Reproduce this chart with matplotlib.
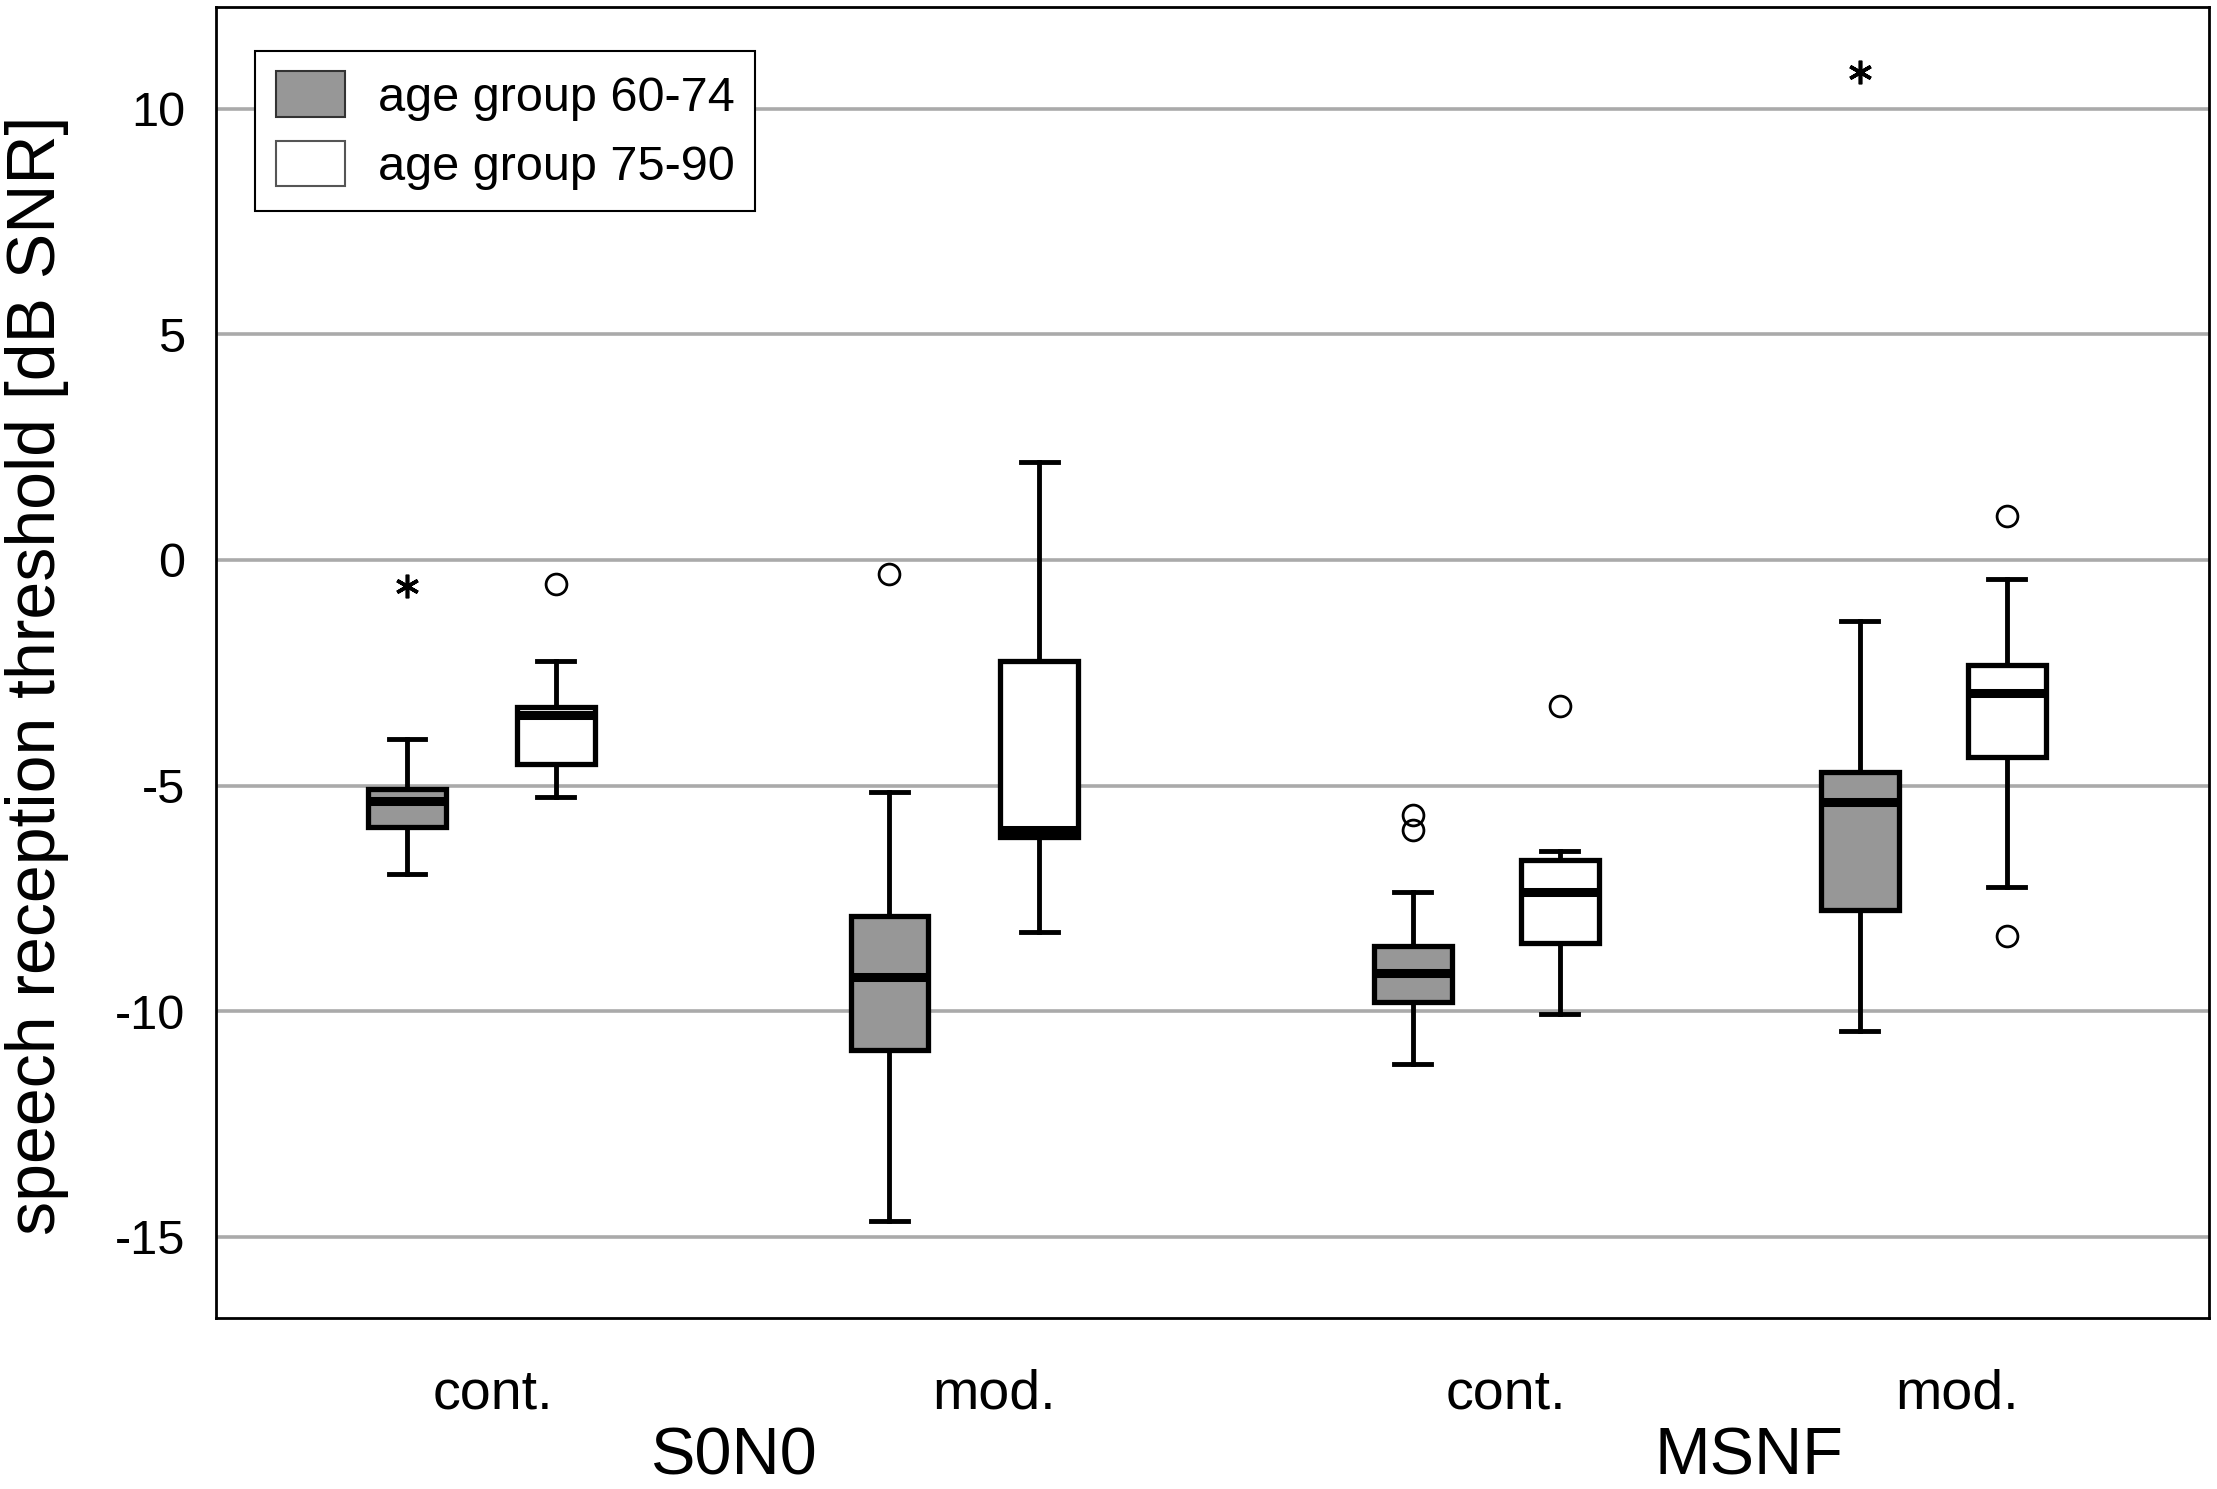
import matplotlib as mpl
mpl.use('Agg')
import numpy as np
import matplotlib.pyplot as plt
from matplotlib.patches import Patch

plt.rcParams['font.family'] = ['Liberation Sans', 'DejaVu Sans']

# box statistics (dB SNR)
# order: S0N0 cont., S0N0 mod., MSNF cont., MSNF mod.
young_whislo = [-6.95, -14.64, -11.17, -10.44]
young_q1     = [-5.93, -10.86,  -9.80,  -7.76]
young_med    = [-5.35,  -9.24,  -9.15,  -5.36]
young_q3     = [-5.07,  -7.89,  -8.55,  -4.69]
young_whishi = [-3.96,  -5.14,  -7.37,  -1.35]
young_out    = [[], [-0.32], [-5.66, -5.98], []]
young_ext    = [[-0.57], [], [], [10.82]]

old_whislo = [-5.25, -8.24, -10.06, -7.24]
old_q1     = [-4.53, -6.13,  -8.48, -4.36]
old_med    = [-3.44, -5.98,  -7.36, -2.94]
old_q3     = [-3.25, -2.25,  -6.64, -2.33]
old_whishi = [-2.24,  2.17,  -6.45, -0.43]
old_out    = [[-0.53], [], [-3.23], [0.98, -8.33]]
old_ext    = [[], [], [], []]

cond_labels = ['cont.', 'mod.', 'cont.', 'mod.']
group_labels = ['S0N0', 'MSNF']
legend_labels = ['age group 60-74', 'age group 75-90']

# layout
pos_young = [1.35, 4.76, 8.46, 11.62]
pos_old = [2.40, 5.82, 9.50, 12.66]
tick_pos = [1.96, 5.50, 9.12, 12.31]
group_pos = [3.66, 10.84]
grey = '#979797'

fig = plt.figure(figsize=(22.17, 14.89), dpi=100)
ax = fig.add_axes([0.0975, 0.1148, 0.8989, 0.8805])

def stats(wl, q1, md, q3, wh):
  return [dict(whislo=a, q1=b, med=c, q3=d, whishi=e, fliers=[])
          for a, b, c, d, e in zip(wl, q1, md, q3, wh)]

for st, pos, fc in [(stats(young_whislo, young_q1, young_med, young_q3, young_whishi), pos_young, grey),
                    (stats(old_whislo, old_q1, old_med, old_q3, old_whishi), pos_old, 'white')]:
  ax.bxp(st, positions=pos, widths=0.55, patch_artist=True, showfliers=False,
         boxprops=dict(facecolor=fc, edgecolor='black', linewidth=3.8),
         medianprops=dict(color='black', linewidth=6.5, solid_capstyle='butt'),
         whiskerprops=dict(color='black', linewidth=3.5),
         capprops=dict(color='black', linewidth=3.5),
         capwidths=0.26, manage_ticks=False, zorder=3)

for pos, outs, exts in [(pos_young, young_out, young_ext), (pos_old, old_out, old_ext)]:
  for p, o, e in zip(pos, outs, exts):
    if o:
      ax.plot([p]*len(o), o, linestyle='none', marker='o', markersize=15,
              markerfacecolor='none', markeredgecolor='black', markeredgewidth=2.0, zorder=4)
    if e:
      ax.plot([p]*len(e), e, linestyle='none', marker=(6, 2, 0), markersize=17,
              color='black', markeredgewidth=2.6, zorder=4)

ax.set_xlim(0, 14.09)
ax.set_ylim(-16.8, 12.25)
ax.set_yticks([-15, -10, -5, 0, 5, 10])
ax.set_yticklabels(['-15', '-10', '-5', '0', '5', '10'])
ax.yaxis.grid(True, color='#aaaaaa', linewidth=2.6)
ax.set_axisbelow(True)
ax.set_xticks(tick_pos)
ax.set_xticklabels(cond_labels)
ax.tick_params(axis='x', length=0, pad=36, labelsize=40)
ax.tick_params(axis='y', length=0, pad=22, labelsize=35)
for s in ax.spines.values():
  s.set_linewidth(2.0)
  s.set_color('black')

for gp, gl in zip(group_pos, group_labels):
  ax.text(gp, -0.106, gl, transform=ax.get_xaxis_transform(), ha='center', va='center', fontsize=48)

ax.set_ylabel('speech reception threshold [dB SNR]', fontsize=49)
ax.yaxis.set_label_coords(-0.074, 0.49)

handles = [Patch(facecolor=grey, edgecolor='#333333', linewidth=1.5),
           Patch(facecolor='white', edgecolor='#555555', linewidth=1.5)]
leg = ax.legend(handles, legend_labels, loc='upper left', bbox_to_anchor=(0.0196, 0.9664),
                borderaxespad=0, fontsize=35, handlelength=1.42, handleheight=1.05,
                handletextpad=0.68, labelspacing=0.42, borderpad=0.42,
                fancybox=False, framealpha=1, edgecolor='black')
leg.get_frame().set_linewidth(1.5)

fig.savefig('out.png', dpi=100)
